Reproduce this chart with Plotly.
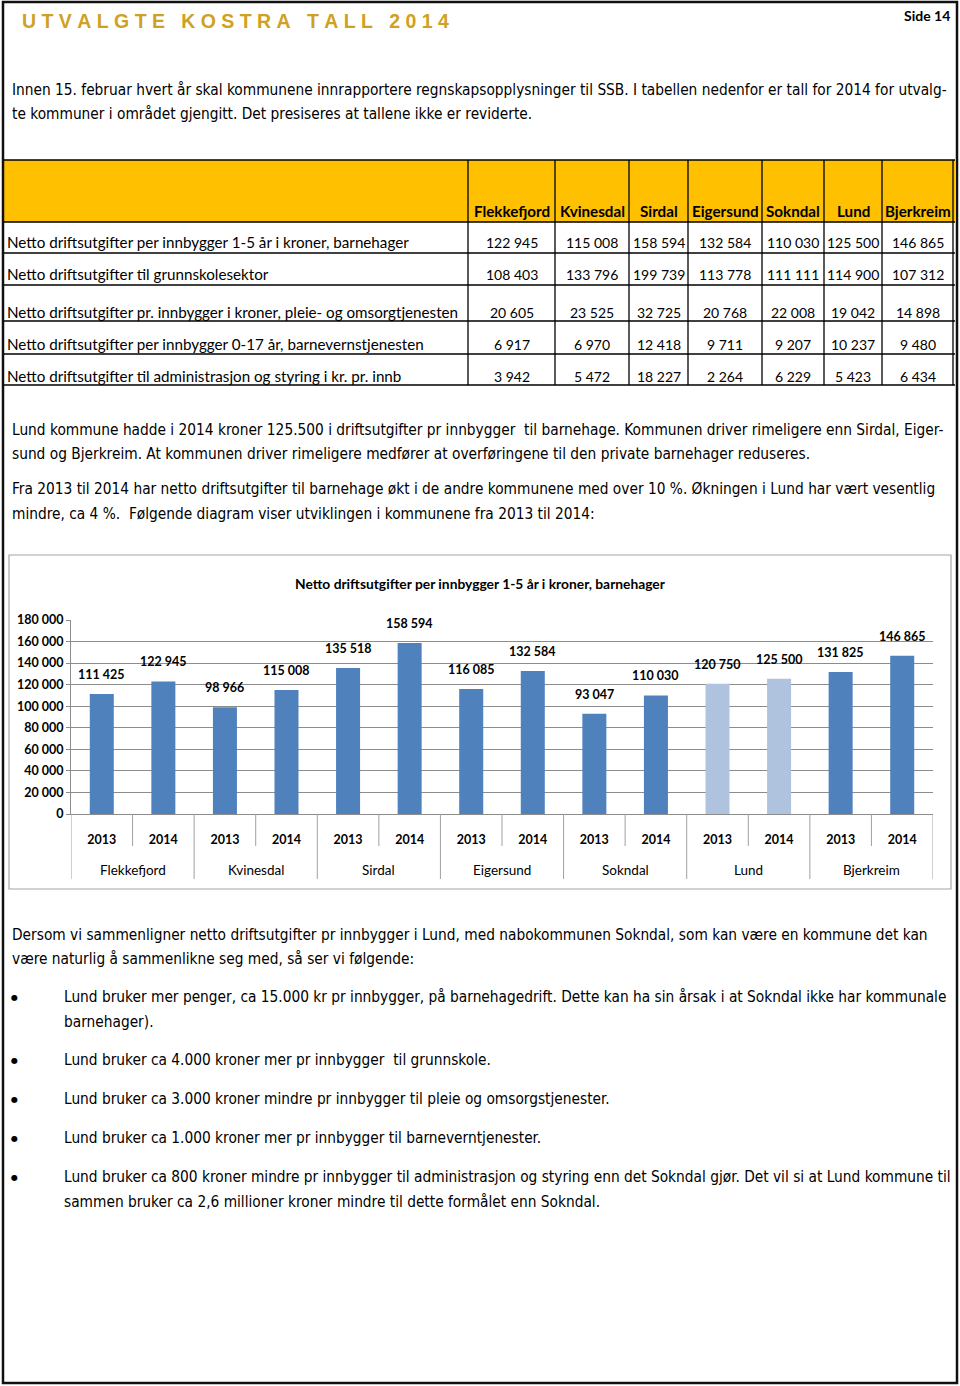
import plotly.graph_objects as go

W, H = 960, 1386

def X(px):
    return px / W

def Y(py):
    return 1 - py / H

# ---------------- data ----------------
municipalities = ["Flekkefjord", "Kvinesdal", "Sirdal", "Eigersund", "Sokndal", "Lund", "Bjerkreim"]
years = ["2013", "2014"]
barnehage_2013 = [111425, 98966, 135518, 116085, 93047, 120750, 131825]
barnehage_2014 = [122945, 115008, 158594, 132584, 110030, 125500, 146865]

row_labels = [
    "Netto driftsutgifter per innbygger 1-5 år i kroner, barnehager",
    "Netto driftsutgifter til grunnskolesektor",
    "Netto driftsutgifter pr. innbygger i kroner, pleie- og omsorgtjenesten",
    "Netto driftsutgifter per innbygger 0-17 år, barnevernstjenesten",
    "Netto driftsutgifter til administrasjon og styring i kr. pr. innb",
]
row_barnehage = [122945, 115008, 158594, 132584, 110030, 125500, 146865]
row_grunnskole = [108403, 133796, 199739, 113778, 111111, 114900, 107312]
row_pleie = [20605, 23525, 32725, 20768, 22008, 19042, 14898]
row_barnevern = [6917, 6970, 12418, 9711, 9207, 10237, 9480]
row_admin = [3942, 5472, 18227, 2264, 6229, 5423, 6434]
table_rows = [row_barnehage, row_grunnskole, row_pleie, row_barnevern, row_admin]

chart_title = "Netto driftsutgifter per innbygger 1-5 år i kroner, barnehager"
highlight = "Lund"

# ---------------- styles ----------------
BODY = "DejaVu Sans Condensed, Liberation Sans, sans-serif"
CAL = "Lato, Carlito, Calibri, sans-serif"
BLUE = "#4F81BD"
LIGHT = "#AFC3DF"
GRID = "#8C8C8C"

fmt = lambda v: f"{v:,}".replace(",", " ")

annotations = []
shapes = []

def txt(x, y, text, size=15.3, family=BODY, color="black", xanchor="left", bold=False):
    if bold:
        text = f"<b>{text}</b>"
    annotations.append(dict(x=X(x), y=Y(y), xref="paper", yref="paper", text=text,
                            showarrow=False, xanchor=xanchor, yanchor="middle",
                            font=dict(family=family, size=size, color=color)))

def line(x0, y0, x1, y1, color="black", width=1):
    shapes.append(dict(type="line", xref="paper", yref="paper", x0=X(x0), y0=Y(y0),
                       x1=X(x1), y1=Y(y1), line=dict(color=color, width=width)))

# page border
shapes.append(dict(type="rect", xref="paper", yref="paper", x0=X(3), y0=Y(1383), x1=X(957), y1=Y(2),
                   line=dict(color="#111", width=2.5), fillcolor="rgba(0,0,0,0)"))

# header
nb = "\u00a0"
title_head = (nb * 3).join(nb.join(list(w)) for w in ["UTVALGTE", "KOSTRA", "TALL", "2014"])
txt(20, 21, title_head, size=19.5, family="Liberation Sans, Arial, sans-serif", color="#CFA122", bold=True)
txt(952, 15, "Side 14", size=14, family=CAL, xanchor="right", bold=True)

# paragraphs
body_lines = [
    (90, "Innen 15. februar hvert år skal kommunene innrapportere regnskapsopplysninger til SSB. I tabellen nedenfor er tall for 2014 for utvalg-"),
    (114, "te kommuner i området gjengitt. Det presiseres at tallene ikke er reviderte."),
    (430, "Lund kommune hadde i 2014 kroner 125.500 i driftsutgifter pr innbygger  til barnehage. Kommunen driver rimeligere enn Sirdal, Eiger-"),
    (454, "sund og Bjerkreim. At kommunen driver rimeligere medfører at overføringene til den private barnehager reduseres."),
    (489, "Fra 2013 til 2014 har netto driftsutgifter til barnehage økt i de andre kommunene med over 10 %. Økningen i Lund har vært vesentlig"),
    (514, "mindre, ca 4 %.  Følgende diagram viser utviklingen i kommunene fra 2013 til 2014:"),
    (935, "Dersom vi sammenligner netto driftsutgifter pr innbygger i Lund, med nabokommunen Sokndal, som kan være en kommune det kan"),
    (959, "være naturlig å sammenlikne seg med, så ser vi følgende:"),
]
for y, t in body_lines:
    txt(10, y, t)

bullets = [
    [(997, "Lund bruker mer penger, ca 15.000 kr pr innbygger, på barnehagedrift. Dette kan ha sin årsak i at Sokndal ikke har kommunale"),
     (1022, "barnehager).")],
    [(1060, "Lund bruker ca 4.000 kroner mer pr innbygger  til grunnskole.")],
    [(1099, "Lund bruker ca 3.000 kroner mindre pr innbygger til pleie og omsorgstjenester.")],
    [(1138, "Lund bruker ca 1.000 kroner mer pr innbygger til barneverntjenester.")],
    [(1177, "Lund bruker ca 800 kroner mindre pr innbygger til administrasjon og styring enn det Sokndal gjør. Det vil si at Lund kommune til"),
     (1202, "sammen bruker ca 2,6 millioner kroner mindre til dette formålet enn Sokndal.")],
]
for b in bullets:
    txt(9, b[0][0], "●", size=8, family="DejaVu Sans, sans-serif")
    for y, t in b:
        txt(62, y, t)

# ---------------- table ----------------
shapes.append(dict(type="rect", xref="paper", yref="paper", x0=X(4), y0=Y(222), x1=X(955), y1=Y(160),
                   fillcolor="#FFC000", line=dict(width=0), layer="below"))
h_lines = [160, 222, 253, 285, 321, 354, 385]
v_lines = [468, 555, 629, 688, 762, 824, 882, 953]
for yy in h_lines:
    line(4, yy, 955, yy, width=1.3)
for xx in v_lines:
    line(xx, 160, xx, 385, width=1.3)
row_y = [242, 274, 312, 344, 376]
for i, m in enumerate(municipalities):
    cx = (v_lines[i] + v_lines[i + 1]) / 2
    txt(cx, 211, m, size=15.2, family=CAL, xanchor="center", bold=True)
    for r, vals in enumerate(table_rows):
        txt(cx, row_y[r], fmt(vals[i]), size=14, family=CAL, xanchor="center")
for r, lab in enumerate(row_labels):
    txt(5, row_y[r], lab, size=15.2, family=CAL)

# ---------------- chart ----------------
shapes.append(dict(type="rect", xref="paper", yref="paper", x0=X(9), y0=Y(889), x1=X(951), y1=Y(555),
                   line=dict(color="#A6A6A6", width=1.2), fillcolor="rgba(0,0,0,0)"))
txt(480, 583, f"<b>{chart_title}</b>", size=13.8, family=CAL, xanchor="center")

xs, ys, cols, yl = [], [], [], []
for g, m in enumerate(municipalities):
    for k, val in enumerate([barnehage_2013[g], barnehage_2014[g]]):
        xs.append(2 * g + k)
        ys.append(val)
        yl.append(years[k])
        cols.append(LIGHT if m == highlight else BLUE)

fig = go.Figure(go.Bar(x=xs, y=ys, marker=dict(color=cols, line=dict(width=0)), width=0.39,
                       hoverinfo="skip"))

for xv, yv in zip(xs, ys):
    annotations.append(dict(x=xv, y=yv, xref="x", yref="y", text=f"<b>{fmt(yv)}</b>", showarrow=False,
                            yanchor="bottom", yshift=10,
                            font=dict(family=CAL, size=12.5, color="black")))
for g, m in enumerate(municipalities):
    annotations.append(dict(x=2 * g + 0.5, y=Y(870), xref="x", yref="paper", text=m, showarrow=False,
                            yanchor="middle", font=dict(family=CAL, size=13.5, color="black")))
for i in range(len(xs) + 1):
    bottom = 879 if i % 2 == 0 else 846
    shapes.append(dict(type="line", xref="x", yref="paper", x0=i - 0.5, x1=i - 0.5, y0=Y(814), y1=Y(bottom),
                       line=dict(color="#A0A0A0", width=1)))

fig.update_layout(
    width=W, height=H, margin=dict(l=0, r=0, t=0, b=0, pad=0, autoexpand=False),
    paper_bgcolor="white", plot_bgcolor="white", showlegend=False,
    separators=", ",
    annotations=annotations, shapes=shapes,
    xaxis=dict(domain=[X(71), X(933)], range=[-0.5, 13.5], tickmode="array", tickvals=xs,
               ticktext=[f"<b>{t}</b>" for t in yl], ticks="", ticklabelstandoff=14,
               showgrid=False, zeroline=False, showline=True, linecolor=GRID, linewidth=1,
               automargin=False,
               tickfont=dict(family=CAL, size=12.5, color="black"), fixedrange=True),
    yaxis=dict(domain=[Y(814), Y(620)], range=[0, 180000], dtick=20000, tick0=0, tickformat=",d",
               showgrid=True, gridcolor=GRID, gridwidth=1, zeroline=False,
               showline=True, linecolor=GRID, ticks="outside", ticklen=4, tickcolor=GRID,
               tickprefix="<b>", ticksuffix="</b>", automargin=False,
               tickfont=dict(family=CAL, size=12.5, color="black"), fixedrange=True),
    bargap=0.6,
)

fig.write_html("out.html", config={"displayModeBar": False},
               post_script="document.body.style.margin='0';document.body.style.overflow='hidden';")
